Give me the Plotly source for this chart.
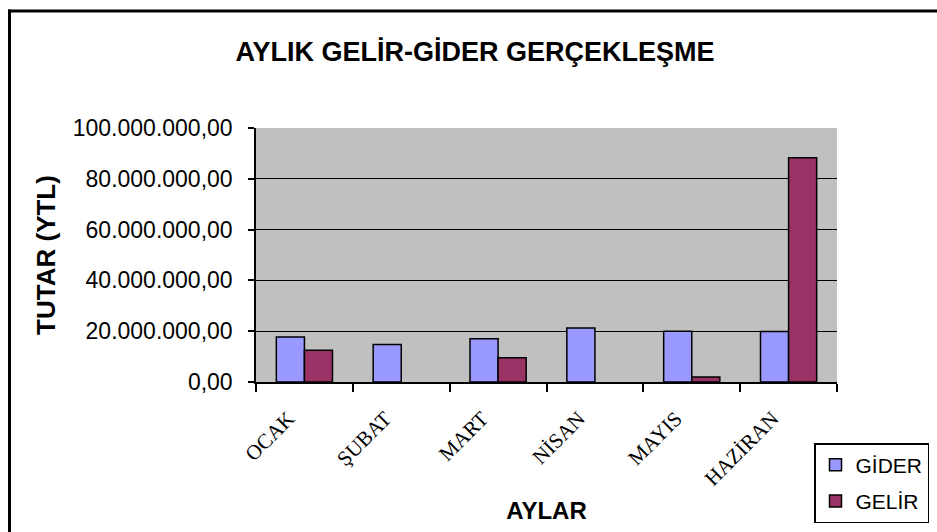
import plotly.graph_objects as go

MONTHS = ["OCAK", "ŞUBAT", "MART", "NİSAN", "MAYIS", "HAZİRAN"]
GIDER = [17.7e6, 14.8e6, 17.0e6, 21.3e6, 20.0e6, 19.9e6]
GELIR = [12.5e6, None, 9.5e6, None, 2.0e6, 88.3e6]
Y_TICK_VALUES = [0, 20e6, 40e6, 60e6, 80e6, 100e6]
Y_TICK_LABELS = ["0,00", "20.000.000,00", "40.000.000,00", "60.000.000,00",
                 "80.000.000,00", "100.000.000,00"]

W, H = 937, 532
L, R, T, B = 256, 100, 128, 150
pw, ph = W - L - R, H - T - B

def px_x(p):
    return (p - L) / pw

def px_y(p):
    return (H - B - p) / ph

SANS = "Liberation Sans, Arial, sans-serif"
SERIF = "Liberation Serif, Times New Roman, serif"

fig = go.Figure()
fig.add_trace(go.Bar(name="GİDER", x=MONTHS, y=GIDER, legendgroup="a",
                     marker=dict(color="#9999FF", line=dict(color="black", width=1.5))))
fig.add_trace(go.Bar(name="GELİR", x=MONTHS, y=GELIR, legendgroup="b",
                     marker=dict(color="#993366", line=dict(color="black", width=1.5))))

frame = dict(color="black", width=3)
fig.update_layout(
    width=W, height=H,
    margin=dict(l=L, r=R, t=T, b=B, autoexpand=False),
    paper_bgcolor="white",
    plot_bgcolor="#C0C0C0",
    barmode="group",
    bargap=0.42,
    bargroupgap=0,
    font=dict(family=SANS, color="black"),
    title=dict(text="<b>AYLIK GELİR-GİDER GERÇEKLEŞME</b>",
               font=dict(family=SANS, size=27, color="black"),
               x=475 / W, xref="container", xanchor="center",
               y=1 - 52 / H, yref="container", yanchor="middle"),
    xaxis=dict(
        type="category",
        showgrid=False,
        ticks="outside", tickson="boundaries", ticklen=8, tickcolor="black", tickwidth=1.5,
        showline=True, linecolor="black", linewidth=2,
        tickangle=-45,
        ticklabelstandoff=14, ticklabelshift=-16,
        tickfont=dict(family=SERIF, size=21, color="black"),
        title=dict(text="<b>AYLAR</b>", font=dict(family=SANS, size=24, color="black"),
                   standoff=13),
    ),
    yaxis=dict(
        range=[0, 100e6],
        tickvals=Y_TICK_VALUES, ticktext=Y_TICK_LABELS,
        showgrid=True, gridcolor="black", gridwidth=1,
        ticks="outside", ticklen=6, tickcolor="black", tickwidth=1.5,
        showline=True, linecolor="black", linewidth=1.5,
        ticklabelstandoff=11,
        tickfont=dict(family=SANS, size=23, color="black"),
        zeroline=False,
        title=dict(text="<b>TUTAR (YTL)</b>", font=dict(family=SANS, size=26, color="black"),
                   standoff=10),
    ),
    legend=dict(
        x=px_x(814), xanchor="left",
        y=px_y(443), yanchor="top",
        bgcolor="white", bordercolor="black", borderwidth=1.5,
        font=dict(family=SANS, size=21, color="black"),
        traceorder="grouped", tracegroupgap=6,
    ),
    shapes=[
        dict(type="line", xref="paper", yref="paper",
             x0=px_x(8), x1=px_x(W + 5), y0=px_y(11), y1=px_y(11), line=frame, layer="below"),
        dict(type="line", xref="paper", yref="paper",
             x0=px_x(9.5), x1=px_x(9.5), y0=px_y(9.5), y1=px_y(H + 5), line=frame, layer="below"),
    ],
)

fig.write_html("out.html",
               config={"displayModeBar": False},
               post_script="document.body.style.margin='0px';document.body.style.overflow='hidden';")
